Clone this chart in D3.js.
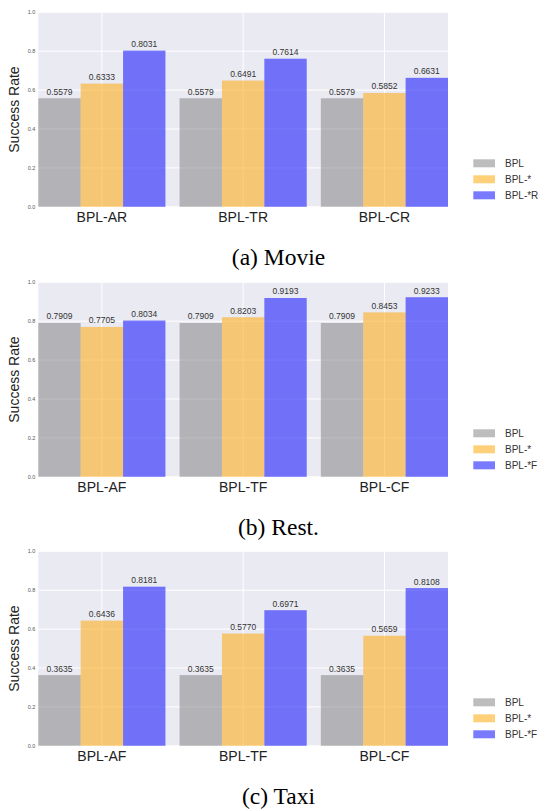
<!DOCTYPE html>
<html><head><meta charset="utf-8">
<script src="https://cdn.jsdelivr.net/npm/d3@7"></script>
<style>body{margin:0;background:#fff}</style>
</head><body>
<script>
const seriesNames = ["BPL", "BPL-*", "BPL-*X"];
const movieCats = ["BPL-AR", "BPL-TR", "BPL-CR"];
const movieBPL = [0.5579, 0.5579, 0.5579];
const movieStar = [0.6333, 0.6491, 0.5852];
const movieStarR = [0.8031, 0.7614, 0.6631];
const restCats = ["BPL-AF", "BPL-TF", "BPL-CF"];
const restBPL = [0.7909, 0.7909, 0.7909];
const restStar = [0.7705, 0.8203, 0.8453];
const restStarF = [0.8034, 0.9193, 0.9233];
const taxiCats = ["BPL-AF", "BPL-TF", "BPL-CF"];
const taxiBPL = [0.3635, 0.3635, 0.3635];
const taxiStar = [0.6436, 0.5770, 0.5659];
const taxiStarF = [0.8181, 0.6971, 0.8108];
const yTicks = [0, 0.2, 0.4, 0.6, 0.8, 1.0];

const panels = [
  {cats: movieCats, series: [movieBPL, movieStar, movieStarR], legend: ["BPL","BPL-*","BPL-*R"], caption: "(a) Movie", top: 12.3},
  {cats: restCats, series: [restBPL, restStar, restStarF], legend: ["BPL","BPL-*","BPL-*F"], caption: "(b) Rest.", top: 282.3},
  {cats: taxiCats, series: [taxiBPL, taxiStar, taxiStarF], legend: ["BPL","BPL-*","BPL-*F"], caption: "(c) Taxi", top: 551.3}
];
const colors = ["rgb(128,128,128)", "rgb(255,165,0)", "rgb(0,0,255)"];
const opac = 0.52;

const W = 550, H = 811;
const svg = d3.select("body").append("svg").attr("width", W).attr("height", H);
const left = 38.3, right = 448, ph = 194.5;
const sans = "Liberation Sans, Arial, sans-serif";

panels.forEach(p => {
  const g = svg.append("g").attr("transform", `translate(0,${p.top})`);
  const x = d3.scaleLinear().domain([-0.45, 2.45]).range([left, right]);
  const y = d3.scaleLinear().domain([0, 1]).range([ph, 0]);
  const bw = x(0.3) - x(0);
  g.append("rect").attr("x", left).attr("y", 0).attr("width", right-left).attr("height", ph).attr("fill", "#EAEAF2");
  // grid
  g.selectAll(".hg").data(yTicks).enter().append("line")
    .attr("x1", left).attr("x2", right).attr("y1", d=>y(d)).attr("y2", d=>y(d))
    .attr("stroke", "#fff").attr("stroke-width", 1);
  g.selectAll(".vg").data(p.cats).enter().append("line")
    .attr("x1", (d,i)=>x(i)).attr("x2", (d,i)=>x(i)).attr("y1", 0).attr("y2", ph)
    .attr("stroke", "#fff").attr("stroke-width", 1);
  // y tick labels
  g.selectAll(".yt").data(yTicks).enter().append("text")
    .attr("x", left-3).attr("y", d=>y(d)).attr("dy", "0.35em")
    .attr("text-anchor", "end").attr("font-family", sans).attr("font-size", 5.5)
    .attr("fill", "#555").text(d=>d.toFixed(1));
  // bars
  p.series.forEach((vals, si) => {
    const off = (si - 1) * 0.3;
    g.selectAll(".b"+si).data(vals).enter().append("rect")
      .attr("x", (d,i)=>x(i+off) - bw/2).attr("width", bw)
      .attr("y", d=>y(d)).attr("height", d=>ph - y(d))
      .attr("fill", colors[si]).attr("fill-opacity", opac);
    g.selectAll(".l"+si).data(vals).enter().append("text")
      .attr("x", (d,i)=>x(i+off)).attr("y", d=>y(d) - 3.5)
      .attr("text-anchor", "middle").attr("font-family", sans).attr("font-size", 8.5)
      .attr("fill", "#333").text(d=>d.toFixed(4));
  });
  // x tick labels
  g.selectAll(".xt").data(p.cats).enter().append("text")
    .attr("x", (d,i)=>x(i)).attr("y", ph + 15)
    .attr("text-anchor", "middle").attr("font-family", sans).attr("font-size", 14)
    .attr("fill", "#222").text(d=>d);
  // y label
  g.append("text").attr("transform", `translate(19,${ph/2}) rotate(-90)`)
    .attr("text-anchor", "middle").attr("font-family", sans).attr("font-size", 14)
    .attr("fill", "#222").text("Success Rate");
  // legend
  p.legend.forEach((name, i) => {
    const ly = 151 + i*16;
    g.append("rect").attr("x", 473.3).attr("y", ly-4).attr("width", 21.7).attr("height", 8)
      .attr("fill", colors[i]).attr("fill-opacity", opac);
    g.append("text").attr("x", 505).attr("y", ly).attr("dy", "0.35em")
      .attr("font-family", sans).attr("font-size", 10).attr("fill", "#333").text(name);
  });
  // caption
  g.append("text").attr("x", 278.5).attr("y", 252.5)
    .attr("text-anchor", "middle").attr("font-family", "Liberation Serif, Times New Roman, serif")
    .attr("font-size", 23.5).attr("fill", "#000").text(p.caption);
});
</script>
</body></html>
